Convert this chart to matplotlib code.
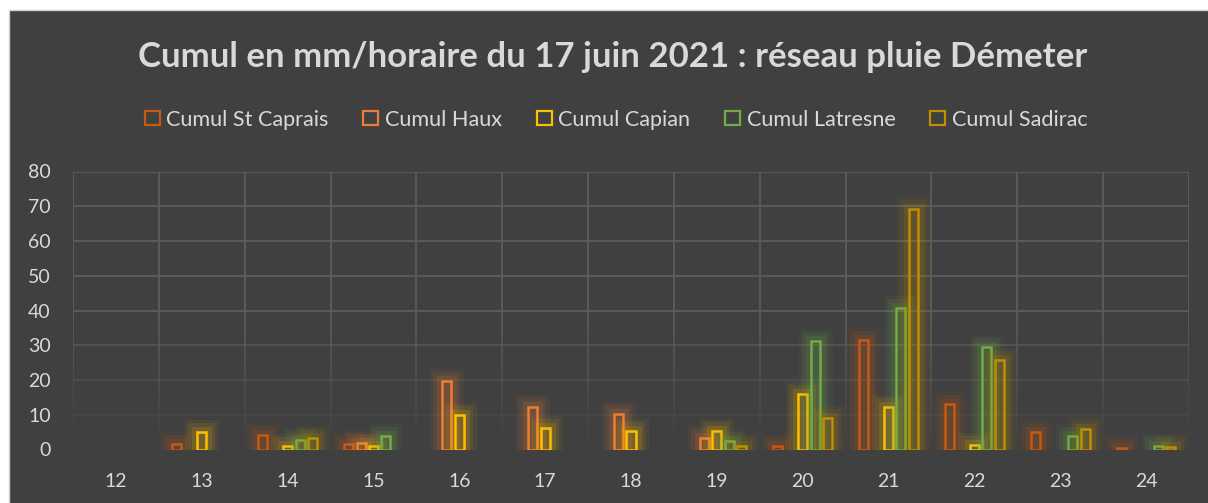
import matplotlib

matplotlib.use("Agg")
import matplotlib.pyplot as plt
import matplotlib.patheffects as pe
from matplotlib.collections import LineCollection
from matplotlib.patches import Patch, Rectangle

# Hourly rainfall (mm) on 17 June 2021, Démeter rain network
hours = [12, 13, 14, 15, 16, 17, 18, 19, 20, 21, 22, 23, 24]
st_caprais = [0, 1.5, 4.2, 1.5, 0, 0, 0, 0, 1.0, 31.5, 13.0, 5.0, 0.5]
haux = [0, 0, 0, 1.8, 19.7, 12.2, 10.2, 3.2, 0, 0, 0, 0, 0]
capian = [0, 5.0, 1.0, 1.0, 10.0, 6.2, 5.4, 5.2, 15.9, 12.3, 1.4, 0, 0]
latresne = [0, 0, 2.6, 4.0, 0, 0, 0, 2.4, 31.2, 40.6, 29.5, 3.9, 0.9]
sadirac = [0, 0, 3.2, 0, 0, 0, 0, 1.0, 9.1, 69.2, 25.7, 6.0, 0.7]

series_names = ["Cumul St Caprais", "Cumul Haux", "Cumul Capian", "Cumul Latresne", "Cumul Sadirac"]
series_values = [st_caprais, haux, capian, latresne, sadirac]
colors = ["#C55A11", "#ED7D31", "#FFC000", "#70AD47", "#BF8F00"]
yticks = [0, 10, 20, 30, 40, 50, 60, 70, 80]

BG = "#404040"
GRID = "#5C5C5C"
TXT = "#D9D9D9"
W, H = 1208, 503

plt.rcParams["font.family"] = ["Lato", "DejaVu Sans"]

fig = plt.figure(figsize=(W / 100, H / 100), dpi=100, facecolor="white")
# dark chart panel (white margin top/left as in the screenshot)
fig.patches.append(Rectangle((9 / W, -0.01), 1.02, (H - 10.5) / H + 0.01, transform=fig.transFigure,
                             facecolor=BG, edgecolor="#D0D0D0", linewidth=1.0, zorder=-10))

ax = fig.add_axes([73 / W, (H - 449.5) / H, (1189 - 73) / W, (449.5 - 171.5) / H])
ax.set_zorder(1)
ax.set_facecolor("none")
ax.set_xlim(-0.5, len(hours) - 0.5)
ax.set_ylim(0, 80)
for s in ax.spines.values():
    s.set_visible(False)

# gridlines fading towards the bottom
for y in yticks[1:]:
    ax.axhline(y, color=GRID, lw=1.3, alpha=min(1.0, y / 40), zorder=1)
segs, alphas = [], []
n_pieces = 40
for k in range(len(hours) + 1):
    x = k - 0.5
    for j in range(n_pieces):
        y0, y1 = 80 * j / n_pieces, 80 * (j + 1) / n_pieces
        segs.append([(x, y0), (x, y1)])
        alphas.append(min(1.0, max(0.0, (y0 + y1) / 2 / 40)))
lc = LineCollection(segs, colors=[(0x5C / 255, 0x5C / 255, 0x5C / 255, a) for a in alphas],
                    linewidths=1.3, zorder=1)
ax.add_collection(lc)

slot = 0.145
bar_w = 0.105
xs = list(range(len(hours)))
for i, (name, vals, col) in enumerate(zip(series_names, series_values, colors)):
    offs = [x + (i - 2) * slot for x in xs]
    bars = ax.bar(offs, vals, width=bar_w, facecolor="none", edgecolor=col, linewidth=1.8, zorder=3)
    for b, v in zip(bars, vals):
        if v <= 0:
            b.set_visible(False)
            continue
        # soft glow around each outlined bar
        b.set_path_effects([
            pe.Stroke(linewidth=18, foreground=col, alpha=0.06),
            pe.Stroke(linewidth=13, foreground=col, alpha=0.09),
            pe.Stroke(linewidth=8, foreground=col, alpha=0.14),
            pe.Normal(),
        ])

ax.set_xticks(xs)
ax.set_xticklabels([str(h) for h in hours])
ax.set_yticks(yticks)
ax.set_yticklabels([str(v) for v in yticks])
ax.tick_params(axis="both", length=0, colors=TXT, labelsize=14)
ax.tick_params(axis="y", pad=16)
ax.tick_params(axis="x", pad=17)

fig.text(613 / W, 1 - 57 / H, "Cumul en mm/horaire du 17 juin 2021 : réseau pluie Démeter",
         ha="center", va="center", color=TXT, fontsize=25, fontweight="bold")

handles = [Patch(facecolor="none", edgecolor=c, linewidth=1.6, label=n) for n, c in zip(series_names, colors)]
fig.legend(handles=handles, loc="center", bbox_to_anchor=(616 / W, 1 - 119.5 / H), ncol=5, frameon=False,
           fontsize=15.6, labelcolor=TXT, handlelength=0.7, handleheight=0.65, handletextpad=0.3,
           columnspacing=1.6)

fig.savefig("out.png", dpi=100, facecolor=fig.get_facecolor())
